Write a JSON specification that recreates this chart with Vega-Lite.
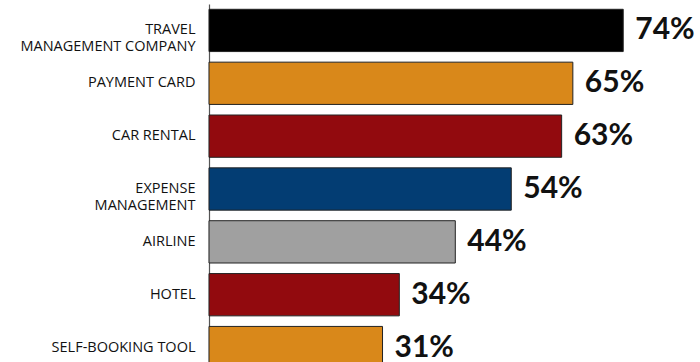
{
  "$schema": "https://vega.github.io/schema/vega-lite/v6.json",
  "width": 487,
  "height": 370,
  "autosize": "none",
  "padding": {"left": 209, "top": 4, "right": 4, "bottom": 0},
  "background": "white",
  "config": {"view": {"stroke": null}},
  "data": {
    "values": [
      {"category": "travel\nmanagement company", "share": 0.74},
      {"category": "Payment Card", "share": 0.65},
      {"category": "Car rental", "share": 0.63},
      {"category": "Expense\nmanagement", "share": 0.54},
      {"category": "Airline", "share": 0.44},
      {"category": "Hotel", "share": 0.34},
      {"category": "Self-booking tool", "share": 0.31}
    ]
  },
  "encoding": {
    "y": {
      "field": "category",
      "type": "nominal",
      "sort": null,
      "scale": {"paddingInner": 0.2, "paddingOuter": 0.1},
      "axis": {
        "title": null,
        "ticks": false,
        "domain": true,
        "domainColor": "#555555",
        "domainWidth": 1.2,
        "labelPadding": 14,
        "labelFont": "Open Sans",
        "labelFontSize": 14.5,
        "labelFontWeight": 500,
        "labelColor": "#111111",
        "labelLineHeight": 17,
        "labelExpr": "split(upper(datum.value), '\\n')"
      }
    },
    "x": {
      "field": "share",
      "type": "quantitative",
      "scale": {"domain": [0, 0.87]},
      "axis": null
    }
  },
  "layer": [
    {
      "mark": {"type": "bar", "stroke": "#222222", "strokeWidth": 1},
      "encoding": {
        "color": {
          "field": "category",
          "type": "nominal",
          "legend": null,
          "scale": {
            "domain": ["travel\nmanagement company", "Payment Card", "Car rental", "Expense\nmanagement", "Airline", "Hotel", "Self-booking tool"],
            "range": ["#000000", "#D9881A", "#920A0E", "#033D73", "#A0A0A0", "#920A0E", "#D9881A"]
          }
        }
      }
    },
    {
      "mark": {"type": "text", "align": "left", "baseline": "middle", "dx": 12, "font": "Lato", "fontSize": 30, "fontWeight": "bold", "color": "#111111"},
      "encoding": {
        "text": {"field": "share", "type": "quantitative", "format": ".0%"}
      }
    }
  ]
}
